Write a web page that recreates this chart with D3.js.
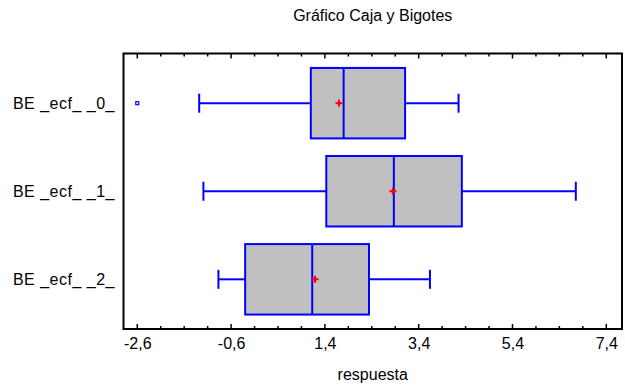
<!DOCTYPE html>
<html><head><meta charset="utf-8">
<script src="https://cdn.jsdelivr.net/npm/d3@7/dist/d3.min.js"></script>
<style>body{margin:0;background:#fff}svg{display:block;font-family:"Liberation Sans",Arial,sans-serif}</style>
</head><body><svg id="c" width="625" height="387"></svg>
<script>
const categories = ["BE _ecf_ _0_", "BE _ecf_ _1_", "BE _ecf_ _2_"];
const whiskerLow  = [-1.28, -1.19, -0.87];
const q1          = [1.10, 1.43, -0.30];
const medians     = [1.80, 2.87, 1.13];
const means       = [1.70, 2.85, 1.19];
const q3          = [3.11, 4.32, 2.34];
const whiskerHigh = [4.25, 6.75, 3.64];
const outliers    = [[-2.6], [], []];
const tickValues  = [-2.6, -0.6, 1.4, 3.4, 5.4, 7.4];
const minorTicks  = d3.range(-2.6, 7.5, 0.5).map(v => +v.toFixed(2));

const svg = d3.select("#c");
const FS = 16;
const L = 123.5, R = 622, T = 53.5, B = 329;
const x = d3.scaleLinear().domain([-2.894, 7.735]).range([L, R]);
const y = d3.scaleBand().domain(categories).range([T, B]).paddingInner(0.2).paddingOuter(0.164);

const data = categories.map((c, i) => ({c, lo: whiskerLow[i], q1: q1[i], med: medians[i], mean: means[i], q3: q3[i], hi: whiskerHigh[i], out: outliers[i]}));
const fmt = v => d3.format(".1f")(v).replace(".", ",").replace("−", "-");

// title
svg.append("text").attr("x", (L + R) / 2).attr("y", 21).attr("text-anchor", "middle")
  .attr("font-size", FS).text("Gráfico Caja y Bigotes");

// boxes
const blue = "#0000ff";
const g = svg.append("g");
data.forEach(d => {
  const cy = y(d.c) + y.bandwidth() / 2, bw = y.bandwidth(), cap = 19;
  g.append("line").attr("x1", x(d.lo)).attr("x2", x(d.q1)).attr("y1", cy).attr("y2", cy).attr("stroke", blue).attr("stroke-width", 2);
  g.append("line").attr("x1", x(d.q3)).attr("x2", x(d.hi)).attr("y1", cy).attr("y2", cy).attr("stroke", blue).attr("stroke-width", 2);
  g.append("line").attr("x1", x(d.lo)).attr("x2", x(d.lo)).attr("y1", cy - cap / 2).attr("y2", cy + cap / 2).attr("stroke", blue).attr("stroke-width", 2);
  g.append("line").attr("x1", x(d.hi)).attr("x2", x(d.hi)).attr("y1", cy - cap / 2).attr("y2", cy + cap / 2).attr("stroke", blue).attr("stroke-width", 2);
  g.append("rect").attr("x", x(d.q1)).attr("y", y(d.c)).attr("width", x(d.q3) - x(d.q1)).attr("height", bw)
    .attr("fill", "#c0c0c0").attr("stroke", blue).attr("stroke-width", 2);
  g.append("line").attr("x1", x(d.med)).attr("x2", x(d.med)).attr("y1", y(d.c)).attr("y2", y(d.c) + bw).attr("stroke", blue).attr("stroke-width", 2);
  const mx = x(d.mean);
  g.append("line").attr("x1", mx - 3.5).attr("x2", mx + 3.5).attr("y1", cy).attr("y2", cy).attr("stroke", "#ff0000").attr("stroke-width", 2);
  g.append("line").attr("x1", mx).attr("x2", mx).attr("y1", cy - 3.5).attr("y2", cy + 3.5).attr("stroke", "#ff0000").attr("stroke-width", 2);
  d.out.forEach(o => {
    g.append("rect").attr("x", x(o) - 1.5).attr("y", cy - 1.5).attr("width", 3).attr("height", 3)
      .attr("fill", "#fff").attr("stroke", blue).attr("stroke-width", 1.2);
  });
});

// category labels
svg.selectAll(".cat").data(categories).enter().append("text")
  .attr("x", 115).attr("y", d => y(d) + y.bandwidth() / 2 + 6).attr("text-anchor", "end")
  .attr("font-size", FS).attr("letter-spacing", "0.5px").attr("fill", "#000").text(d => d);

// ticks (inward, top and bottom)
const tk = svg.append("g").attr("stroke", "#000");
minorTicks.forEach(v => {
  const isMajor = tickValues.some(t => Math.abs(t - v) < 1e-6);
  const len = isMajor ? 5 : 3;
  tk.append("line").attr("x1", x(v)).attr("x2", x(v)).attr("y1", B).attr("y2", B - len).attr("stroke-width", 1.5);
  tk.append("line").attr("x1", x(v)).attr("x2", x(v)).attr("y1", T).attr("y2", T + len).attr("stroke-width", 1.5);
});

// bottom axis labels
const ax = svg.append("g").attr("transform", `translate(0,${B})`)
  .call(d3.axisBottom(x).tickValues(tickValues).tickSize(0).tickPadding(9).tickFormat(fmt));
ax.select(".domain").remove();
ax.selectAll("text").attr("font-size", FS).attr("fill", "#000").attr("font-family", "Liberation Sans, Arial, sans-serif");

// frame
svg.append("rect").attr("x", L).attr("y", T).attr("width", R - L).attr("height", B - T)
  .attr("fill", "none").attr("stroke", "#000").attr("stroke-width", 2);

svg.append("text").attr("x", (L + R) / 2).attr("y", 380).attr("text-anchor", "middle")
  .attr("font-size", FS).text("respuesta");
</script></body></html>
